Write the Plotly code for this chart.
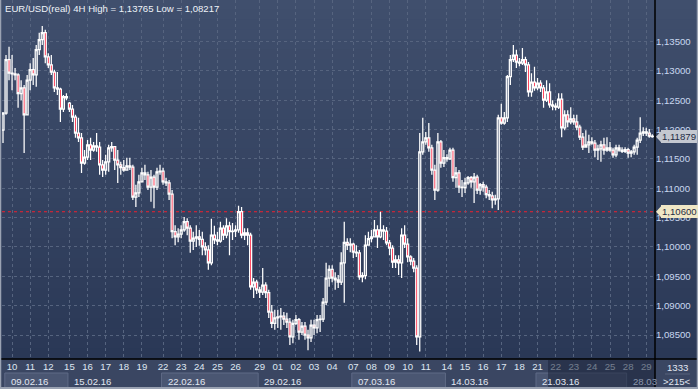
import plotly.graph_objects as go

# ---------------- data ----------------
chart_title = "EUR/USD(real) 4H High = 1,13765 Low = 1,08217"

opens = [
    1.1199,
    1.1228, 1.1319, 1.1296, 1.1295, 1.1293, 1.1261, 1.1271, 1.1225, 1.1284, 1.1302,
    1.1293, 1.1336, 1.1353, 1.1365, 1.1324, 1.1310, 1.1298, 1.1271, 1.1269, 1.1235,
    1.1256, 1.1245,
    1.1235, 1.1221, 1.1194, 1.1186, 1.1143, 1.1153, 1.1174, 1.1165,
    1.1172, 1.1170, 1.1140, 1.1131, 1.1145, 1.1169, 1.1171, 1.1148, 1.1140, 1.1135,
    1.1131, 1.1138, 1.1136, 1.1085, 1.1092, 1.1111, 1.1126, 1.1123, 1.1102, 1.1119,
    1.1102, 1.1128, 1.1129, 1.1111, 1.1109, 1.1090, 1.1026, 1.1017, 1.1022, 1.1029,
    1.1043, 1.1032, 1.1010, 1.1015, 1.1017, 1.1013, 1.1000, 1.0995, 1.0973, 1.1020,
    1.1012, 1.1010, 1.1032, 1.1020, 1.1036, 1.1026, 1.1027, 1.1029, 1.1060, 1.1020,
    1.1024, 1.1020, 1.0932, 1.0940, 1.0927, 1.0923, 1.0935, 1.0922, 1.0889, 1.0870,
    1.0879, 1.0881, 1.0882, 1.0877, 1.0872, 1.0847, 1.0870, 1.0876, 1.0855, 1.0865,
    1.0850, 1.0845, 1.0867, 1.0862, 1.0876, 1.0877, 1.0906, 1.0947, 1.0962, 1.0947,
    1.0944, 1.0940, 1.0973, 1.1008, 1.1003, 1.1005, 1.0991, 1.0990, 1.0949, 1.0951,
    1.1003, 1.1014, 1.1017, 1.1029, 1.1017, 1.1029, 1.1027, 1.1007, 1.0998, 1.0974,
    1.0978, 1.0973, 1.1020, 1.1005, 1.0983, 1.0976, 1.0964, 1.0847, 1.1162, 1.1179,
    1.1186, 1.1169, 1.1131, 1.1097, 1.1179, 1.1143, 1.1152, 1.1150, 1.1165, 1.1118,
    1.1126, 1.1102, 1.1101, 1.1109, 1.1118, 1.1111, 1.1119, 1.1097, 1.1106, 1.1102,
    1.1089, 1.1087, 1.1080, 1.1082, 1.1220, 1.1211, 1.1220, 1.1290, 1.1319, 1.1327,
    1.1315, 1.1313, 1.1319, 1.1310, 1.1264, 1.1281, 1.1271, 1.1279, 1.1271, 1.1250,
    1.1264, 1.1242, 1.1240, 1.1238, 1.1252, 1.1203, 1.1225, 1.1213, 1.1218, 1.1213,
    1.1204, 1.1187, 1.1170, 1.1174, 1.1179, 1.1177, 1.1165, 1.1167, 1.1174, 1.1165,
    1.1169, 1.1165, 1.1157, 1.1169, 1.1165, 1.1163, 1.1166, 1.1160, 1.1162, 1.1170,
    1.1182, 1.1194, 1.1196, 1.1194, 1.1189,
]

highs = [
    1.1230, 1.1327, 1.1341, 1.1327, 1.1305, 1.1296, 1.1284, 1.1276, 1.1293, 1.1313,
    1.1322, 1.1344, 1.1365, 1.13765, 1.1370, 1.1330, 1.1327, 1.1302, 1.1298, 1.1271,
    1.1259, 1.1262, 1.1247, 1.1242, 1.1225, 1.1220, 1.1194, 1.1165, 1.1182, 1.1186,
    1.1179, 1.1194, 1.1179, 1.1148, 1.1157, 1.1174, 1.1179, 1.1172, 1.1165, 1.1145,
    1.1148, 1.1152, 1.1152, 1.1140, 1.1106, 1.1123, 1.1135, 1.1140, 1.1128, 1.1131,
    1.1123, 1.1135, 1.1140, 1.1135, 1.1118, 1.1114, 1.1097, 1.1037, 1.1032, 1.1037,
    1.1051, 1.1049, 1.1037, 1.1026, 1.1037, 1.1029, 1.1026, 1.1008, 1.1003, 1.1048,
    1.1036, 1.1026, 1.1043, 1.1037, 1.1049, 1.1043, 1.1041, 1.1037, 1.1070, 1.1068,
    1.1032, 1.1032, 1.1024, 1.0947, 1.0944, 1.0932, 1.0964, 1.0940, 1.0927, 1.0901,
    1.0893, 1.0893, 1.0896, 1.0889, 1.0888, 1.0879, 1.0876, 1.0884, 1.0879, 1.0872,
    1.0872, 1.0859, 1.0876, 1.0876, 1.0884, 1.0884, 1.0913, 1.0973, 1.0969, 1.0969,
    1.0957, 1.0952, 1.0991, 1.1043, 1.1015, 1.1015, 1.1007, 1.1003, 1.0995, 1.0957,
    1.1020, 1.1026, 1.1029, 1.1046, 1.1037, 1.1060, 1.1037, 1.1034, 1.1012, 1.1003,
    1.0986, 1.0986, 1.1032, 1.1037, 1.1015, 1.0986, 1.0981, 1.0969, 1.1194, 1.1220,
    1.1196, 1.1211, 1.1174, 1.1140, 1.1194, 1.1182, 1.1165, 1.1158, 1.1169, 1.1169,
    1.1136, 1.1131, 1.1114, 1.1118, 1.1121, 1.1121, 1.1126, 1.1123, 1.1109, 1.1111,
    1.1106, 1.1097, 1.1094, 1.1089, 1.1225, 1.1244, 1.1230, 1.1293, 1.1327, 1.1344,
    1.1336, 1.1322, 1.1339, 1.1324, 1.1315, 1.1296, 1.1307, 1.1288, 1.1284, 1.1276,
    1.1284, 1.1279, 1.1250, 1.1245, 1.1262, 1.1262, 1.1233, 1.1233, 1.1238, 1.1225,
    1.1225, 1.1208, 1.1194, 1.1199, 1.1191, 1.1187, 1.1182, 1.1174, 1.1181, 1.1186,
    1.1187, 1.1179, 1.1169, 1.1174, 1.1174, 1.1170, 1.1170, 1.1169, 1.1165, 1.1174,
    1.1186, 1.1221, 1.1204, 1.1203, 1.1201, 1.1192,
]

lows = [
    1.1177, 1.1225, 1.1284, 1.1267, 1.1284, 1.1237, 1.1250, 1.1160, 1.1225, 1.1267,
    1.1276, 1.1273, 1.1327, 1.1344, 1.1313, 1.1305, 1.1293, 1.1264, 1.1259, 1.1213,
    1.1230, 1.1250, 1.1230, 1.1213, 1.1186, 1.1179, 1.1126, 1.1140, 1.1148, 1.1148,
    1.1162, 1.1162, 1.1123, 1.1119, 1.1123, 1.1128, 1.1162, 1.1131, 1.1109, 1.1123,
    1.1128, 1.1131, 1.1131, 1.1080, 1.1068, 1.1085, 1.1111, 1.1114, 1.1097, 1.1077,
    1.1066, 1.1097, 1.1123, 1.1106, 1.1104, 1.1080, 1.1015, 1.1003, 1.1008, 1.1015,
    1.1026, 1.1020, 1.0990, 1.0995, 1.1000, 1.1002, 1.0986, 1.0986, 1.0961, 1.0969,
    1.1005, 1.1003, 1.1007, 1.1012, 1.1015, 1.0986, 1.1012, 1.1017, 1.1024, 1.1015,
    1.1012, 1.1003, 1.0927, 1.0913, 1.0920, 1.0913, 1.0918, 1.0913, 1.0879, 1.0862,
    1.0859, 1.0862, 1.0859, 1.0867, 1.0862, 1.0833, 1.0836, 1.0867, 1.0842, 1.0850,
    1.0842, 1.0824, 1.0838, 1.0850, 1.0853, 1.0855, 1.0872, 1.0901, 1.0932, 1.0940,
    1.0927, 1.0930, 1.0935, 1.0905, 1.0995, 1.0991, 1.0981, 1.0983, 1.0944, 1.0940,
    1.0945, 1.1003, 1.1008, 1.1017, 1.0998, 1.1015, 1.1012, 1.1003, 1.0986, 1.0964,
    1.0964, 1.0952, 1.0947, 1.0998, 1.0974, 1.0969, 1.0957, 1.0833, 1.08217, 1.1157,
    1.1174, 1.1162, 1.1123, 1.1080, 1.1094, 1.1135, 1.1136, 1.1145, 1.1148, 1.1111,
    1.1101, 1.1092, 1.1085, 1.1092, 1.1106, 1.1101, 1.1075, 1.1090, 1.1089, 1.1094,
    1.1083, 1.1080, 1.1066, 1.1072, 1.1063, 1.1208, 1.1208, 1.1213, 1.1276, 1.1315,
    1.1305, 1.1308, 1.1310, 1.1298, 1.1256, 1.1256, 1.1266, 1.1267, 1.1264, 1.1237,
    1.1247, 1.1237, 1.1233, 1.1233, 1.1235, 1.1187, 1.1199, 1.1204, 1.1209, 1.1208,
    1.1199, 1.1182, 1.1165, 1.1169, 1.1160, 1.1174, 1.1153, 1.1148, 1.1145, 1.1157,
    1.1162, 1.1162, 1.1152, 1.1153, 1.1162, 1.1160, 1.1160, 1.1152, 1.1153, 1.1157,
    1.1157, 1.1177, 1.1189, 1.1189, 1.1186, 1.1186,
]

closes = [
    1.1228, 1.1319, 1.1296, 1.1295, 1.1293, 1.1261, 1.1271, 1.1225, 1.1284, 1.1302,
    1.1293, 1.1336, 1.1353, 1.1365, 1.1324, 1.1310, 1.1298, 1.1271, 1.1269, 1.1235,
    1.1256, 1.1254, 1.1235, 1.1221, 1.1194, 1.1186, 1.1143, 1.1153, 1.1174, 1.1165,
    1.1172, 1.1170, 1.1140, 1.1131, 1.1145, 1.1169, 1.1171, 1.1148, 1.1140, 1.1135,
    1.1131, 1.1138, 1.1136, 1.1085, 1.1092, 1.1111, 1.1126, 1.1123, 1.1102, 1.1119,
    1.1102, 1.1128, 1.1129, 1.1111, 1.1109, 1.1090, 1.1026, 1.1017, 1.1022, 1.1029,
    1.1043, 1.1032, 1.1010, 1.1015, 1.1017, 1.1013, 1.1000, 1.0995, 1.0973, 1.1020,
    1.1012, 1.1010, 1.1032, 1.1020, 1.1036, 1.1026, 1.1027, 1.1029, 1.1060, 1.1020,
    1.1024, 1.1020, 1.0932, 1.0940, 1.0927, 1.0923, 1.0935, 1.0922, 1.0889, 1.0870,
    1.0879, 1.0881, 1.0882, 1.0877, 1.0872, 1.0847, 1.0870, 1.0876, 1.0855, 1.0865,
    1.0850, 1.0845, 1.0867, 1.0862, 1.0876, 1.0877, 1.0906, 1.0947, 1.0962, 1.0947,
    1.0944, 1.0940, 1.0973, 1.1008, 1.1003, 1.1005, 1.0991, 1.0990, 1.0949, 1.0951,
    1.1003, 1.1014, 1.1017, 1.1029, 1.1017, 1.1029, 1.1027, 1.1007, 1.0998, 1.0974,
    1.0978, 1.0973, 1.1020, 1.1005, 1.0983, 1.0976, 1.0964, 1.0847, 1.1162, 1.1179,
    1.1186, 1.1169, 1.1131, 1.1097, 1.1179, 1.1143, 1.1152, 1.1150, 1.1165, 1.1118,
    1.1126, 1.1102, 1.1101, 1.1109, 1.1118, 1.1111, 1.1119, 1.1097, 1.1106, 1.1102,
    1.1089, 1.1087, 1.1080, 1.1082, 1.1220, 1.1211, 1.1220, 1.1290, 1.1319, 1.1327,
    1.1315, 1.1313, 1.1319, 1.1310, 1.1264, 1.1281, 1.1271, 1.1279, 1.1271, 1.1250,
    1.1264, 1.1242, 1.1240, 1.1238, 1.1252, 1.1203, 1.1225, 1.1213, 1.1218, 1.1213,
    1.1204, 1.1187, 1.1170, 1.1174, 1.1179, 1.1177, 1.1165, 1.1167, 1.1174, 1.1165,
    1.1169, 1.1165, 1.1157, 1.1169, 1.1165, 1.1163, 1.1166, 1.1160, 1.1162, 1.1170,
    1.1182, 1.1194, 1.1196, 1.1194, 1.1189, 1.11879,
]

# bar index at which each trading day starts, with its label
day_start_index = [3, 9, 15, 22, 28, 34, 40, 46, 53, 59, 65, 71, 77, 85, 91, 97,
                   103, 109, 116, 122, 128, 134, 140, 147, 153, 159, 165, 171,
                   177, 183, 189, 195, 201, 207, 213]
day_labels = ["10", "11", "12", "15", "16", "17", "18", "19", "22", "23", "24",
              "25", "26", "29", "01", "02", "03", "04", "07", "08", "09", "10",
              "11", "14", "15", "16", "17", "18", "21", "22", "23", "24", "25",
              "28", "29"]

# week separator row
week_start_index = [1.1, 22, 53, 85, 116, 147, 177, 207]
week_labels = ["09.02.16", "15.02.16", "22.02.16", "29.02.16", "07.03.16",
               "14.03.16", "21.03.16", "28.03"]
week_highlight = [True, False, True, False, True, False, True, False]

price_ticks = [1.085, 1.090, 1.095, 1.100, 1.105, 1.110, 1.115, 1.120,
               1.125, 1.130, 1.135]
last_price = 1.11879
marked_level = 1.10600
bars_total = "1333"
bars_visible = ">215<"

# ---------------- figure ----------------
W, H = 698, 389
ML, MR, MT, MB = 2, 43, 0, 30
PW, PH = W - ML - MR, H - MT - MB
FONT = "Liberation Sans, Arial, sans-serif"
Y_RANGE = [1.080911, 1.142070]


def px_x(p):
    return (p - ML) / PW


def px_y(p):
    return (H - MB - p) / PH


def fmt(v):
    return f"{v:.5f}".replace(".", ",")


x_idx = list(range(len(closes)))

fig = go.Figure()
fig.add_trace(go.Candlestick(
    x=x_idx, open=opens, high=highs, low=lows, close=closes,
    increasing=dict(line=dict(color="#ffffff", width=1.25), fillcolor="rgba(255,255,255,0.25)"),
    decreasing=dict(line=dict(color="#ffffff", width=1.25), fillcolor="#ff1030"),
    whiskerwidth=0, showlegend=False, hoverinfo="skip",
))

shapes = []
# vertical gradient background of price panel + right scale
top_rgb = (64, 79, 109)
bot_rgb = (42, 56, 86)
nb = 36
for k in range(nb):
    t = (k + 0.5) / nb
    c = tuple(round(top_rgb[j] + (bot_rgb[j] - top_rgb[j]) * t) for j in range(3))
    y1 = 1 - k / nb
    y0 = 1 - (k + 1) / nb
    shapes.append(dict(type="rect", xref="paper", yref="paper", x0=-0.01, x1=1.08,
                       y0=y0 - 0.002, y1=y1 + 0.002, layer="below", line_width=0,
                       fillcolor=f"rgb{c}"))
# time axis strip
shapes.append(dict(type="rect", xref="paper", yref="paper", x0=-0.01, x1=1.08,
                   y0=px_y(H + 2), y1=0, layer="below", line_width=0,
                   fillcolor="#3a4662"))
# highlighted week boxes
for i, (ws, hl) in enumerate(zip(week_start_index, week_highlight)):
    if not hl:
        continue
    x0 = ws - 0.5
    x1 = (week_start_index[i + 1] - 0.5) if i + 1 < len(week_start_index) else 216.5
    shapes.append(dict(type="rect", xref="x", yref="paper", x0=x0, x1=x1,
                       y0=px_y(389), y1=px_y(373), layer="below",
                       line=dict(color="#5e6a86", width=1), fillcolor="#4a5672"))
# red dashed marked level
shapes.append(dict(type="line", xref="paper", yref="y", x0=0, x1=1,
                   y0=marked_level, y1=marked_level, layer="between",
                   line=dict(color="#f0202f", width=1.2, dash="3px,3px")))
# dim overlay on the right end of time axis
shapes.append(dict(type="rect", xref="paper", yref="paper", x0=px_x(548), x1=1.0,
                   y0=px_y(389), y1=px_y(360), layer="above", line_width=0,
                   fillcolor="rgba(28,36,58,0.55)"))
# black separators
shapes.append(dict(type="line", xref="paper", yref="paper", x0=1.0, x1=1.0,
                   y0=px_y(H), y1=1, layer="above", line=dict(color="#000000", width=1.5)))
shapes.append(dict(type="line", xref="paper", yref="paper", x0=px_x(0), x1=px_x(W),
                   y0=0, y1=0, layer="above", line=dict(color="#000000", width=1.5)))
# small separator in corner
shapes.append(dict(type="line", xref="paper", yref="paper", x0=px_x(665), x1=px_x(690),
                   y0=px_y(374), y1=px_y(374), layer="above",
                   line=dict(color="#56627c", width=1)))
# outer frame (left, bottom, right)
shapes.append(dict(type="line", xref="paper", yref="paper", x0=px_x(0.5), x1=px_x(0.5),
                   y0=px_y(H), y1=1, layer="above", line=dict(color="#9aa2b2", width=1.5)))
shapes.append(dict(type="line", xref="paper", yref="paper", x0=px_x(0), x1=px_x(W),
                   y0=px_y(388), y1=px_y(388), layer="above", line=dict(color="#9aa2b2", width=2)))
shapes.append(dict(type="line", xref="paper", yref="paper", x0=px_x(697.5), x1=px_x(697.5),
                   y0=px_y(H), y1=1, layer="above", line=dict(color="#9aa2b2", width=1.5)))
# pointer triangles of the price labels
dy = 6 / (PH / (Y_RANGE[1] - Y_RANGE[0]))
for lvl, col in ((last_price, "#c4c8d0"), (marked_level, "#efe7c6")):
    xa, xb = px_x(656), px_x(661.5)
    shapes.append(dict(type="path", xref="paper", yref="y", layer="above",
                       path=f"M {xa},{lvl} L {xb},{lvl + dy} L {xb},{lvl - dy} Z",
                       fillcolor=col, line_width=0))

annotations = []
annotations.append(dict(text=chart_title, xref="paper", yref="paper", x=px_x(3), y=1,
                        xanchor="left", yanchor="top", yshift=-1, showarrow=False,
                        font=dict(family=FONT, size=9.6, color="#eef2f8")))
for ws, lab in zip(week_start_index, week_labels):
    dim = lab == "28.03"
    annotations.append(dict(text=lab, xref="x", yref="paper", x=ws - 0.5,
                            y=px_y(381), xanchor="left", yanchor="middle", xshift=4,
                            showarrow=False,
                            font=dict(family=FONT, size=9.6,
                                      color="#8b96ad" if dim else "#e2e8f2")))
for lvl, bg in ((last_price, "#c4c8d0"), (marked_level, "#efe7c6")):
    annotations.append(dict(text=fmt(lvl), xref="paper", yref="y", x=px_x(661), y=lvl,
                            xanchor="left", yanchor="middle", showarrow=False,
                            bgcolor=bg, borderwidth=0, borderpad=1,
                            font=dict(family=FONT, size=9.6, color="#1f2b45")))
annotations.append(dict(text=bars_total, xref="paper", yref="paper", x=px_x(677),
                        y=px_y(367), xanchor="center", yanchor="middle", showarrow=False,
                        font=dict(family=FONT, size=9.6, color="#e2e8f2")))
annotations.append(dict(text=bars_visible, xref="paper", yref="paper", x=px_x(677),
                        y=px_y(381), xanchor="center", yanchor="middle", showarrow=False,
                        font=dict(family=FONT, size=9.6, color="#e2e8f2")))

fig.update_layout(
    width=W, height=H, autosize=False,
    margin=dict(l=ML, r=MR, t=MT, b=MB, pad=0, autoexpand=False),
    paper_bgcolor="#364360", plot_bgcolor="rgba(0,0,0,0)",
    showlegend=False, shapes=shapes, annotations=annotations,
    boxgap=0.05,
    xaxis=dict(range=[-0.33, 215.9], rangeslider=dict(visible=False), automargin=False,
               tickmode="array", tickvals=day_start_index, ticktext=day_labels,
               showgrid=True, gridcolor="#56647f", gridwidth=1, griddash="3px,3px",
               zeroline=False, showline=False, ticks="",
               tickfont=dict(family=FONT, size=9.6, color="#dfe6f1")),
    yaxis=dict(range=Y_RANGE, side="right", automargin=False,
               tickmode="array", tickvals=price_ticks,
               ticktext=[fmt(v) for v in price_ticks],
               showgrid=True, gridcolor="#56647f", gridwidth=1, griddash="3px,3px",
               zeroline=False, showline=False, ticks="",
               tickfont=dict(family=FONT, size=9.6, color="#c9d8f0")),
)

fig.write_html(
    "out.html",
    config={"displayModeBar": False},
    post_script="document.body.style.margin='0';document.body.style.overflow='hidden';",
)
